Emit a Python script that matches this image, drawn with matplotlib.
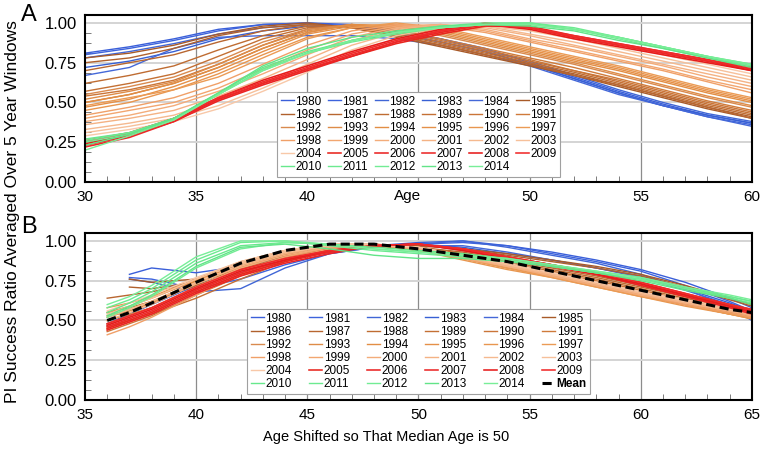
import numpy as np
import matplotlib
matplotlib.use('Agg')
import matplotlib.pyplot as plt
from matplotlib.ticker import MultipleLocator, FormatStrFormatter

plt.rcParams['font.family'] = ['Liberation Sans', 'DejaVu Sans']

nan = np.nan
years = list(range(1980, 2015))

# panel A: success ratio vs age
ages_a = [30, 32, 34, 36, 38, 40, 42, 44, 46, 48, 50, 52, 54, 56, 58, 60]
ticks_a = ['30', '35', '40', '', '50', '55', '60']   # 45 is replaced by the "Age" label
a_blue = [
    [.81, .85, .90, .96, .99, 1.00, .99, .95, .90, .84, .75, .66, .57, .49, .42, .37],
    [.80, .84, .89, .95, .99, 1.00, .98, .93, .88, .82, .74, .65, .56, .48, .41, .36],
    [.78, .82, .87, .93, .97, .99, .98, .95, .90, .83, .76, .67, .58, .50, .43, .38],
    [.72, .76, .82, .90, .95, .98, .97, .94, .88, .82, .74, .65, .56, .48, .42, .37],
    [.67, .72, .84, .91, .92, .92, .92, .90, .86, .80, .73, .64, .55, .48, .41, .35],
]
a_brown = [
    [.78, .81, .86, .93, .98, 1.00, .97, .91, .85, .79, .73, .67, .60, .53, .46, .40],
    [.75, .78, .84, .92, .97, .99, .97, .92, .86, .80, .74, .68, .61, .54, .47, .41],
    [.70, .75, .80, .88, .95, .99, .97, .92, .86, .80, .74, .67, .61, .54, .47, .40],
    [.62, .67, .73, .83, .92, .98, .98, .93, .87, .81, .75, .69, .62, .55, .48, .42],
    [.57, .62, .68, .79, .90, .97, .98, .94, .88, .82, .76, .70, .63, .56, .49, .43],
    [.54, .58, .64, .74, .86, .96, .99, .95, .89, .83, .77, .70, .64, .57, .50, .44],
    [.50, .55, .62, .72, .84, .94, .99, .96, .90, .84, .78, .72, .65, .58, .51, .45],
]
a_orange = [
    [.55, .60, .66, .76, .88, .96, .99, .97, .92, .86, .80, .74, .67, .60, .53, .47],
    [.52, .57, .63, .74, .86, .95, .99, .98, .93, .87, .81, .75, .68, .61, .54, .48],
    [.50, .55, .62, .72, .84, .94, .99, .98, .94, .88, .82, .76, .70, .63, .56, .50],
    [.47, .52, .60, .70, .82, .93, .98, .99, .95, .89, .83, .77, .71, .64, .57, .51],
    [.45, .50, .58, .68, .80, .91, .97, .99, .96, .90, .84, .78, .72, .65, .58, .52],
    [.48, .53, .58, .66, .78, .90, .97, 1.00, .97, .91, .85, .79, .73, .66, .59, .53],
]
a_peach = [
    [.42, .47, .53, .62, .74, .86, .95, .99, .98, .94, .88, .82, .76, .70, .63, .56],
    [.40, .45, .50, .59, .71, .83, .93, .98, .99, .95, .89, .83, .77, .71, .64, .58],
    [.38, .42, .48, .57, .68, .80, .91, .97, .99, .96, .90, .85, .79, .73, .66, .60],
    [.36, .40, .45, .54, .65, .77, .89, .96, .99, .97, .92, .86, .80, .74, .68, .62],
    [.33, .37, .42, .51, .62, .74, .86, .94, .98, .98, .93, .88, .82, .76, .70, .64],
    [.31, .35, .40, .48, .59, .71, .83, .92, .97, .98, .95, .90, .84, .78, .72, .66],
    [.29, .33, .38, .46, .57, .69, .81, .90, .96, .99, .96, .91, .86, .80, .74, .68],
]
a_red = [
    [.25, .30, .39, .52, .62, .71, .79, .87, .93, .98, .98, .92, .87, .82, .77, .71],
    [.23, .29, .38, .51, .61, .70, .79, .88, .94, .99, .97, .91, .86, .81, .76, .70],
    [.22, .28, .38, .52, .62, .71, .80, .88, .95, 1.00, .97, .91, .86, .81, .76, .71],
    [.24, .30, .40, .53, .64, .73, .82, .90, .96, .99, .96, .90, .85, .80, .75, .70],
    [.26, .31, .40, .53, .63, .72, .81, .89, .95, .99, .97, .92, .87, .82, .77, .72],
]
a_green = [
    [.27, .31, .40, .56, .72, .82, .89, .94, .98, 1.00, 1.00, .96, .91, .85, .79, .74],
    [.26, .31, .40, .55, .71, .81, .88, .93, .97, .99, 1.00, .97, .91, .85, .79, .73],
    [.25, .30, .39, .55, .70, .81, .89, .94, .97, .99, .99, .96, .90, .84, .78, .73],
    [.23, .30, .40, .56, .73, .84, .91, .95, .98, .99, .98, .95, .89, .84, .78, .72],
    [.20, .29, .39, .55, .70, .81, .89, .94, .97, .99, .99, .96, .91, .85, .79, .74],
]

# panel B: same data with ages shifted so median age is 50
ages_b = [36, 37, 38, 40, 42, 44, 46, 48, 50, 52, 54, 56, 58, 60, 62, 64, 65]
b_blue = [
    [nan, .79, .83, .80, .84, .90, .94, .97, .99, 1.00, .97, .93, .88, .82, .74, .64, .58],
    [nan, .77, .76, .70, .76, .85, .92, .96, .98, .99, .97, .92, .87, .81, .72, .62, .56],
    [nan, .76, .74, .68, .70, .83, .92, .96, .98, 1.00, .96, .91, .86, .79, .70, .58, .50],
    [.48, .54, .60, .72, .82, .90, .94, .97, .98, .96, .92, .88, .83, .78, .70, .61, .56],
    [.47, .53, .58, .70, .80, .89, .93, .96, .97, .97, .93, .88, .83, .77, .69, .60, .55],
]
b_brown = [
    [nan, .76, .74, .76, .84, .91, .95, .97, .97, .95, .92, .88, .84, .79, .72, .64, .60],
    [nan, .71, .70, .74, .82, .90, .95, .97, .97, .95, .91, .87, .83, .78, .71, .63, .59],
    [.64, .66, .68, .74, .83, .91, .96, .97, .96, .93, .88, .83, .78, .72, .66, .60, .57],
    [.55, .58, .62, .72, .82, .90, .95, .97, .96, .92, .87, .82, .77, .71, .65, .59, .56],
    [.46, .50, .54, .64, .76, .87, .94, .97, .96, .92, .86, .81, .76, .70, .64, .58, .55],
    [.43, .48, .53, .66, .78, .88, .94, .97, .96, .91, .86, .80, .75, .69, .63, .57, .54],
    [.45, .50, .55, .68, .79, .88, .94, .97, .95, .91, .85, .80, .74, .68, .62, .56, .53],
]
b_orange = [
    [.50, .54, .58, .70, .81, .90, .96, .98, .95, .90, .85, .79, .73, .67, .61, .55, .52],
    [.52, .56, .61, .73, .84, .92, .97, .98, .95, .90, .84, .79, .73, .66, .60, .54, .51],
    [.48, .53, .58, .71, .83, .92, .97, .98, .95, .89, .83, .78, .72, .66, .60, .54, .52],
    [.55, .59, .64, .75, .86, .94, .98, .98, .94, .89, .83, .78, .72, .66, .60, .55, .52],
    [.58, .61, .65, .76, .87, .94, .98, .97, .94, .88, .82, .77, .71, .65, .59, .54, .51],
    [.53, .57, .62, .74, .85, .93, .97, .98, .94, .89, .83, .77, .71, .65, .60, .54, .52],
]
b_peach = [
    [.41, .46, .52, .66, .79, .89, .95, .97, .95, .90, .84, .78, .72, .66, .60, .55, .52],
    [.44, .49, .55, .69, .81, .90, .96, .98, .95, .90, .84, .78, .72, .66, .61, .56, .53],
    [.47, .52, .58, .71, .83, .91, .96, .98, .95, .89, .84, .78, .72, .66, .61, .56, .53],
    [.50, .55, .60, .73, .84, .92, .97, .98, .95, .90, .84, .79, .73, .67, .61, .56, .54],
    [.52, .57, .62, .74, .85, .93, .97, .98, .96, .90, .85, .79, .73, .67, .62, .57, .54],
    [.54, .59, .64, .76, .86, .93, .97, .98, .96, .91, .85, .80, .74, .68, .62, .57, .55],
    [.56, .61, .66, .77, .87, .94, .98, .98, .96, .91, .86, .80, .74, .68, .63, .58, .55],
]
b_red = [
    [.45, .50, .55, .68, .79, .87, .93, .97, .98, .94, .89, .84, .79, .73, .66, .59, .55],
    [.44, .49, .54, .67, .78, .86, .92, .97, .98, .95, .90, .85, .79, .72, .65, .58, .54],
    [.46, .51, .56, .69, .80, .88, .93, .97, .98, .95, .90, .85, .80, .74, .67, .60, .56],
    [.47, .52, .57, .70, .81, .88, .94, .97, .98, .94, .89, .84, .79, .73, .66, .59, .55],
    [.48, .53, .58, .71, .82, .89, .94, .97, .98, .95, .90, .85, .80, .74, .67, .60, .57],
]
b_green = [
    [.55, .61, .68, .86, .97, .99, .98, .96, .94, .92, .89, .85, .81, .77, .71, .65, .62],
    [.58, .63, .70, .88, .99, 1.00, .97, .94, .92, .90, .88, .84, .80, .76, .70, .65, .62],
    [.52, .58, .65, .83, .95, .99, .98, .95, .93, .91, .88, .84, .80, .76, .70, .64, .61],
    [.53, .59, .66, .84, .96, .98, .95, .91, .89, .89, .87, .84, .80, .75, .69, .64, .60],
    [.60, .65, .72, .90, 1.00, 1.00, .98, .95, .93, .91, .89, .85, .81, .77, .71, .66, .63],
]
b_mean = [.50, .55, .61, .74, .86, .94, .98, .98, .95, .91, .87, .81, .75, .69, .63, .57, .55]

colors = ['#3a5fd9', '#3d63dc', '#4066d6', '#3760d4', '#4468d8',
          '#a85a28', '#b0602c', '#b86630', '#bf6c32', '#c47034', '#ca7538', '#cf7a3a',
          '#d98a4e', '#de8c48', '#e28e44', '#e59048', '#e8964f', '#eb9b55',
          '#f0a068', '#f2a670', '#f3ac7a', '#f4b284', '#f5b98f', '#f6c09a', '#f8c8a8',
          '#e8261e', '#ea2424', '#ec2828', '#e61c1c', '#f02a2a',
          '#66e88c', '#6cea90', '#72ec94', '#62e488', '#78ee98']

data_a = a_blue + a_brown + a_orange + a_peach + a_red + a_green
data_b = b_blue + b_brown + b_orange + b_peach + b_red + b_green

fig = plt.figure(figsize=(7.62, 4.49), dpi=100)
ax_a = fig.add_axes([0.1115, 0.5947, 0.8753, 0.3719])
ax_b = fig.add_axes([0.1115, 0.1091, 0.8753, 0.3720])


def style_axes(ax, x0, x1):
    ax.set_xlim(x0, x1)
    ax.set_ylim(0, 1.05)
    ax.xaxis.set_major_locator(MultipleLocator(5))
    ax.xaxis.set_minor_locator(MultipleLocator(1))
    ax.yaxis.set_major_locator(MultipleLocator(0.25))
    ax.yaxis.set_minor_locator(MultipleLocator(0.0625))
    ax.yaxis.set_major_formatter(FormatStrFormatter('%.2f'))
    ax.tick_params(which='major', length=0, pad=6)
    ax.tick_params(axis='x', labelsize=11)
    ax.tick_params(axis='y', labelsize=12)
    ax.tick_params(which='minor', direction='in', length=4, width=0.6, color='#666')
    ax.grid(False)
    for x in range(x0 + 5, x1, 5):
        ax.axvline(x, color='#8c8c8c', lw=0.9, zorder=0)
    for y in [0.25, 0.5, 0.75, 1.0]:
        ax.axhline(y, color='#d4d4d4', lw=1.4, zorder=0)
    for s in ax.spines.values():
        s.set_linewidth(1.5)


def row_order(handles, labels, ncol=6):
    # matplotlib fills legend columns first; reorder so years read across rows
    n = len(handles)
    idx = [r * ncol + c for c in range(ncol) for r in range((n + ncol - 1) // ncol) if r * ncol + c < n]
    return [handles[i] for i in idx], [labels[i] for i in idx]


style_axes(ax_a, 30, 60)
ax_a.set_xticks(range(30, 61, 5), ticks_a)
for yr, vals, col in zip(years, data_a, colors):
    lw = 1.15 if 2005 <= yr <= 2009 else 1.0
    ax_a.plot(ages_a, vals, color=col, lw=lw, label=str(yr))

style_axes(ax_b, 35, 65)
for yr, vals, col in zip(years, data_b, colors):
    lw = 1.15 if 2005 <= yr <= 2009 else 1.0
    ax_b.plot(ages_b, vals, color=col, lw=lw, label=str(yr))
ax_b.plot(ages_b, b_mean, color='black', lw=2.2, ls=(0, (3, 1.5)), label='Mean')

leg_kw = dict(ncol=6, fontsize=8.5, handlelength=1.1, handletextpad=0.15,
              labelspacing=0.1, borderpad=0.3, borderaxespad=0, fancybox=False,
              framealpha=1, edgecolor='#a0a0a0', loc='lower left')

h, l = row_order(*ax_a.get_legend_handles_labels())
leg = ax_a.legend(h, l, bbox_to_anchor=(0.288, 0.03), columnspacing=0.5, **leg_kw)
leg.get_frame().set_linewidth(0.8)

h, l = row_order(*ax_b.get_legend_handles_labels())
leg = ax_b.legend(h, l, bbox_to_anchor=(0.243, 0.036), columnspacing=1.45, **leg_kw)
leg.get_frame().set_linewidth(0.8)
leg.get_texts()[-1].set_fontweight('bold')

ax_a.annotate('Age', xy=(0.483, 0), xycoords='axes fraction', xytext=(0, -5),
              textcoords='offset points', ha='center', va='top', fontsize=11)

fig.text(386 / 762, 1 - 437 / 449, 'Age Shifted so That Median Age is 50',
         ha='center', va='center', fontsize=10.5)
fig.text(0.017, 0.528, 'PI Success Ratio Averaged Over 5 Year Windows',
         rotation=90, ha='center', va='center', fontsize=12.5)
fig.text(29 / 762, 1 - 15 / 449, 'A', ha='center', va='center', fontsize=17)
fig.text(29 / 762, 1 - 227 / 449, 'B', ha='center', va='center', fontsize=17)

fig.savefig('out.png', dpi=100)
